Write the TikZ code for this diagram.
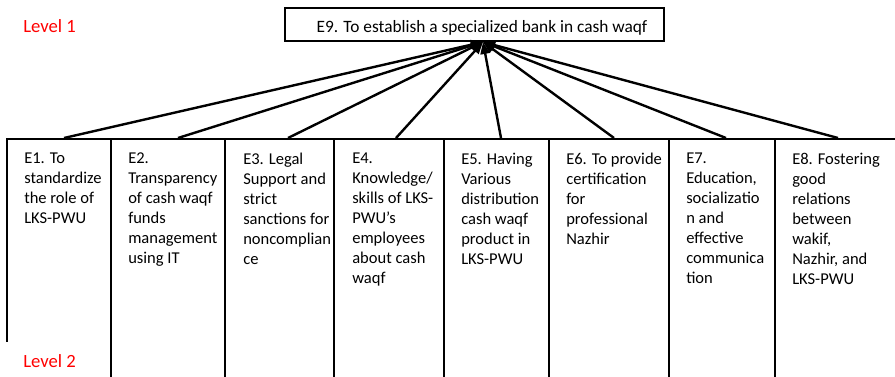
\documentclass[tikz,border=0pt]{standalone}
\usepackage{fontspec}
\setmainfont{Carlito}
\usetikzlibrary{arrows.meta,calc}
\begin{document}
\begin{tikzpicture}[x=0.75pt,y=-0.75pt,
  ebox/.style={draw=black,line width=1.5pt,rectangle,inner sep=0pt,anchor=north west,minimum height=196.5pt},
  topbox/.style={draw=black,line width=1.5pt,rectangle,inner sep=0pt,font=\fontsize{13pt}{16pt}\selectfont,text height=14.6pt,text depth=2pt},
  etext/.style={anchor=north west,align=left,inner sep=0pt,font=\fontsize{12.4pt}{15pt}\selectfont},
  lvl/.style={text=red,font=\fontsize{14pt}{17pt}\selectfont,anchor=base west,inner sep=0pt},
  conn/.style={line width=1.8pt,-{Triangle[length=9pt,width=7pt]}}]
\useasboundingbox (0,0) rectangle (895,377);
\clip (0,0) rectangle (895,377);
% top box
\node[topbox,minimum width=284.25pt,minimum height=24.75pt] (e9) at (474.5,24.5)
  {\hspace*{11.25pt}E9. To establish a specialized bank in cash waqf};
\coordinate (apex) at ([xshift=6.375pt]e9.south);
% level 2 boxes
\node[ebox,minimum width=78pt]    (e1) at (6,138) {};
\node[ebox,minimum width=85.5pt]  (e2) at (110,138) {};
\node[ebox,minimum width=81.75pt] (e3) at (224,138) {};
\node[ebox,minimum width=82.5pt]  (e4) at (333,138) {};
\node[ebox,minimum width=78.75pt] (e5) at (443,138) {};
\node[ebox,minimum width=90pt]    (e6) at (548,138) {};
\node[ebox,minimum width=79.5pt]  (e7) at (668,138) {};
\node[ebox,minimum width=98.25pt] (e8) at (774,138) {};
% texts
\node[etext] (t1) at ([xshift=13.5pt,yshift=-11.25pt]e1.north west) {E1. To\\standardize\\the role of\\LKS-PWU};
\node[etext] (t2) at ([xshift=13.5pt,yshift=-11.25pt]e2.north west) {E2.\\Transparency\\of cash waqf\\funds\\management\\using IT};
\node[etext] (t3) at ([xshift=14.25pt,yshift=-11.25pt]e3.north west) {E3. Legal\\Support and\\strict\\sanctions for\\noncomplian\\ce};
\node[etext] (t4) at ([xshift=14.25pt,yshift=-11.25pt]e4.north west) {E4.\\Knowledge/\\skills of LKS-\\PWU’s\\employees\\about cash\\waqf};
\node[etext] (t5) at ([xshift=13.5pt,yshift=-11.25pt]e5.north west) {E5. Having\\Various\\distribution\\cash waqf\\product in\\LKS-PWU};
\node[etext] (t6) at ([xshift=13.5pt,yshift=-11.25pt]e6.north west) {E6. To provide\\certification\\for\\professional\\Nazhir};
\node[etext] (t7) at ([xshift=13.5pt,yshift=-11.25pt]e7.north west) {E7.\\Education,\\socializatio\\n and\\effective\\communica\\tion};
\node[etext] (t8) at ([xshift=13.5pt,yshift=-11.25pt]e8.north west) {E8. Fostering\\good\\relations\\between\\wakif,\\Nazhir, and\\LKS-PWU};
% connectors
\draw[conn] ([xshift=3.75pt]e1.north) -- (apex);
\draw[conn] ([xshift=7.5pt]e2.north) -- (apex);
\draw[conn] ([xshift=6.375pt]e3.north) -- (apex);
\draw[conn] ([xshift=5.25pt]e4.north) -- (apex);
\draw[conn] ([xshift=3.375pt]e5.north) -- (apex);
\draw[conn] ([xshift=3.75pt]e6.north) -- (apex);
\draw[conn] ([xshift=3pt]e7.north) -- (apex);
\draw[conn] ([xshift=-1.875pt]e8.north) -- (apex);
% level labels
\node[lvl] (l1) at (23,33) {Level 1};
\node[fill=white,inner sep=0pt,anchor=north west,minimum width=78.75pt,minimum height=30pt] (cover) at (3,342) {};
\node[lvl] (l2) at (23,367) {Level 2};
\end{tikzpicture}
\end{document}
